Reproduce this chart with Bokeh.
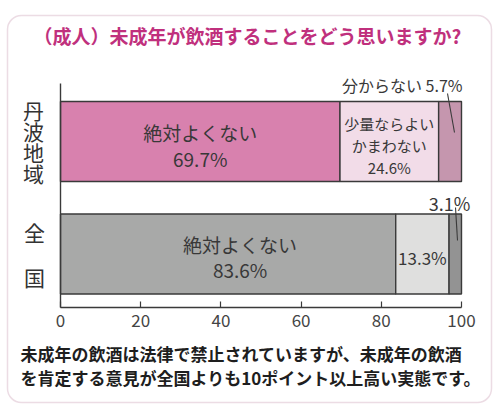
import numpy as np
from bokeh.plotting import figure
from bokeh.models import Range1d, LinearAxis, FixedTicker, BoxAnnotation
from bokeh.core.properties import value
from bokeh.embed import file_html
from bokeh.resources import INLINE

# ---------------- data ----------------
title_text = "（成人）未成年が飲酒することをどう思いますか?"
regions = ["丹波地域", "全国"]
answers = ["絶対よくない", "少量ならよい\nかまわない", "分からない"]
tanba = [69.7, 24.6, 5.7]
zenkoku = [83.6, 13.3, 3.1]
x_ticks = [0, 20, 40, 60, 80, 100]
note_lines = [
    "未成年の飲酒は法律で禁止されていますが、未成年の飲酒",
    "を肯定する意見が全国よりも10ポイント以上高い実態です。",
]

FONT = value("Noto Sans CJK JP")
PINKS = ["#d881ae", "#f2dce8", "#c596ae"]
GRAYS = ["#a8a9a8", "#dfdfde", "#939393"]
EDGE = "#3a3a3a"
TXT = "#383838"

W, H = 500, 420

# picture-pixel helpers (layout only)
def X(px):
    return (px - 60) / 4.01

def Y(py):
    return (253.5 - py) / 112.5

p = figure(width=W, height=H, x_range=Range1d(X(0), X(W)), y_range=Range1d(Y(H), Y(0)),
           x_axis_location=None, y_axis_location=None, toolbar_location=None,
           output_backend="svg", min_border=0)
p.outline_line_color = None
p.background_fill_color = "white"
p.border_fill_color = "white"
for g in p.grid:
    g.visible = False

# rounded frame
try:
    box = BoxAnnotation(left=X(7), right=X(491), top=Y(15), bottom=Y(402), fill_alpha=0,
                        line_color="#bf8aa4", line_width=1.5, border_radius=14)
except Exception:
    box = BoxAnnotation(left=X(7), right=X(491), top=Y(15), bottom=Y(402), fill_alpha=0,
                        line_color="#bf8aa4", line_width=1.5)
p.add_layout(box)

# bars
rows = [(tanba, PINKS, 1), (zenkoku, GRAYS, 0)]
bar_h = 80 / 112.5
for vals, cols, yy in rows:
    right = np.cumsum(vals)
    left = right - np.array(vals)
    p.hbar(y=[yy] * len(vals), left=left, right=right, height=bar_h,
           fill_color=cols, line_color=EDGE, line_width=1.4)

# axes
xaxis = LinearAxis(fixed_location=Y(307), bounds=(0, 100),
                   ticker=FixedTicker(ticks=x_ticks, minor_ticks=[]),
                   major_tick_in=6, major_tick_out=0, minor_tick_in=0, minor_tick_out=0,
                   axis_line_color=EDGE, axis_line_width=1.4,
                   major_tick_line_color=EDGE, major_tick_line_width=1.2,
                   major_label_text_font="Noto Sans CJK JP", major_label_text_font_size="17px",
                   major_label_text_color="#444444", major_label_standoff=6)
p.add_layout(xaxis, "below")
yaxis = LinearAxis(fixed_location=0, bounds=(Y(307), Y(83)),
                   ticker=FixedTicker(ticks=[], minor_ticks=[]),
                   major_tick_in=0, major_tick_out=0, minor_tick_in=0, minor_tick_out=0,
                   axis_line_color=EDGE, axis_line_width=1.4,
                   major_label_text_font_size="0px")
p.add_layout(yaxis, "left")

def txt(x, y, t, size, color=TXT, align="center", style="normal", lh=1.2, xo=0, yo=0):
    p.text(x=[x], y=[y], text=[t], text_font=FONT, text_font_size=size, text_color=color,
           text_align=align, text_baseline="middle", text_font_style=style,
           text_line_height=lh, x_offset=xo, y_offset=yo)

# labels inside bars
t_right = np.cumsum(tanba)
z_right = np.cumsum(zenkoku)
txt(tanba[0] / 2, 1, f"{answers[0]}\n{tanba[0]}%", "19px", lh=0.98, yo=4)
txt(t_right[0] + tanba[1] / 2, 1, f"{answers[1]}\n{tanba[1]}%", "15px", lh=1.07, yo=4)
txt(zenkoku[0] / 2, 0, f"{answers[0]}\n{zenkoku[0]}%", "19px", lh=0.9, xo=12, yo=3)
txt(z_right[0] + zenkoku[1] / 2, 0, f"{zenkoku[1]}%", "17px", yo=3)

# call-outs for the small segments
txt(X(462), Y(84), f"{answers[2]} {tanba[2]}%", "16px", align="right")
p.segment(x0=[X(447)], y0=[Y(93)], x1=[X(454)], y1=[Y(132)], line_color=EDGE, line_width=1.1)
txt(X(449), Y(202), f"{zenkoku[2]}%", "18px")
p.segment(x0=[X(455)], y0=[Y(207)], x1=[X(457)], y1=[Y(240)], line_color=EDGE, line_width=1.1)

# row labels (vertical)
txt(X(33), 1, "\n".join(regions[0]), "21px", color="#333333", lh=0.71)
txt(X(34), 0, f"{regions[1][0]}\n\n{regions[1][1]}", "21px", color="#333333", lh=0.75)

# title and note
txt(X(247), Y(35), title_text, "19px", color="#c0307d", style="bold")
txt(X(20), Y(353), note_lines[0], "17px", color="#1e1e1e", align="left", style="bold")
txt(X(20), Y(377), note_lines[1], "17px", color="#1e1e1e", align="left", style="bold")

open("out.html", "w").write(file_html(p, INLINE))
